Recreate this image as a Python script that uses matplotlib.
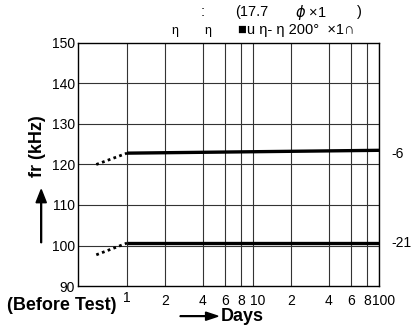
import matplotlib

matplotlib.use("Agg")
import matplotlib.pyplot as plt
import matplotlib.transforms as mtransforms

plt.rcParams["font.family"] = ["Liberation Sans", "DejaVu Sans"]

# ---- data ----
days = [1, 100]
fr_upper = [122.8, 123.5]
fr_lower = [100.6, 100.6]
before_x = [0.57, 1]
before_upper = [120.0, 122.8]
before_lower = [97.7, 100.6]
curve_labels = ["-6", "-21"]

x_grid = [1, 2, 4, 6, 8, 10, 20, 40, 60, 80, 100]
x_ticklabels = ["1", "2", "4", "6", "8", "10", "2", "4", "6", "8", "100"]
y_ticks = [90, 100, 110, 120, 130, 140, 150]

fig = plt.figure(figsize=(4.12, 3.28), dpi=100)
ax = fig.add_axes([0.1886, 0.128, 0.7314, 0.741])
ax.set_xscale("log")
ax.set_xlim(0.406, 100)
ax.set_ylim(90, 150)

for x in x_grid:
    ax.axvline(x, color="#333333", lw=0.8, zorder=1)
for y in y_ticks[1:-1]:
    ax.axhline(y, color="#333333", lw=0.8, zorder=1)

ax.plot(days, fr_upper, color="black", lw=2.4, solid_capstyle="butt", zorder=3)
ax.plot(days, fr_lower, color="black", lw=2.4, solid_capstyle="butt", zorder=3)
ax.plot(before_x, before_upper, color="black", lw=2, ls=(0, (1, 1.2)), zorder=3)
ax.plot(before_x, before_lower, color="black", lw=2, ls=(0, (1, 1.2)), zorder=3)

for yv, dy, lab in zip([fr_upper[-1], fr_lower[-1]], [-3, 0], curve_labels):
    ax.annotate(lab, (1.0, yv), xycoords=("axes fraction", "data"), xytext=(9, dy),
                textcoords="offset points", ha="left", va="center", fontsize=10)

ax.set_yticks(y_ticks)
ax.set_yticklabels([str(v) for v in y_ticks], fontsize=10)
ax.set_xticks([])
ax.minorticks_off()
ax.tick_params(axis="y", length=0, pad=2)
ax.tick_params(axis="x", which="both", length=0)

trans = mtransforms.blended_transform_factory(ax.transData, ax.transAxes)
for x, lab in zip(x_grid, x_ticklabels):
    dx = 1.08 if lab in ("10", "100") else 1.0
    yy = -0.022 if lab == "1" else -0.033
    ax.text(x * dx, yy, lab, transform=trans, ha="center", va="top", fontsize=10)

for s in ax.spines.values():
    s.set_linewidth(1.0)

# axis titles
fig.text(0.018, 0.07, "(Before Test)", fontsize=13, fontweight="bold", ha="left", va="center")
fig.text(0.588, 0.034, "Days", fontsize=13, fontweight="bold", ha="center", va="center")
fig.patches.append(matplotlib.patches.FancyArrow(
    0.437, 0.036, 0.092, 0, width=0.002, head_width=0.025, head_length=0.03,
    length_includes_head=True, color="black", transform=fig.transFigure, figure=fig))
fig.text(0.09, 0.555, "fr (kHz)", fontsize=13, fontweight="bold", rotation=90,
         ha="center", va="center")
fig.patches.append(matplotlib.patches.FancyArrow(
    0.1, 0.26, 0, 0.162, width=0.002, head_width=0.025, head_length=0.04,
    length_includes_head=True, color="black", transform=fig.transFigure, figure=fig))

# header text
fig.text(0.493, 0.962, ":", fontsize=10.5, ha="center", va="center")
fig.text(0.57, 0.962, "(17.7", fontsize=10.5, ha="left", va="center")
fig.text(0.716, 0.962, "$\\phi$ ×1", fontsize=10.5, ha="left", va="center")
fig.text(0.866, 0.962, ")", fontsize=10.5, ha="left", va="center")
fig.text(0.425, 0.905, "η", fontsize=9, ha="center", va="center")
fig.text(0.505, 0.905, "η", fontsize=9, ha="center", va="center")
fig.text(0.578, 0.91, "■u η- η 200°  ×1∩", fontsize=10.5, ha="left", va="center")

fig.savefig("out.png", dpi=100)
